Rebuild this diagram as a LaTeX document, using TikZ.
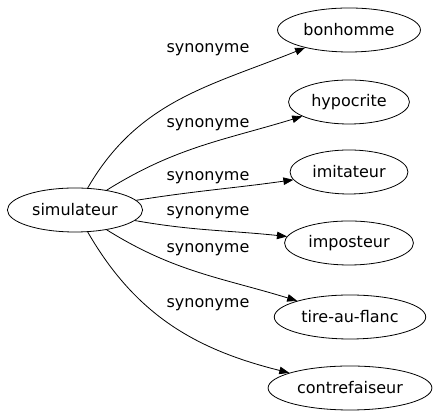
\documentclass[tikz,border=0pt]{standalone}
\usepackage{fontspec}
\setmainfont{DejaVu Sans}
\usetikzlibrary{arrows.meta,shapes.geometric}

\begin{document}
\begin{tikzpicture}[x=1pt,y=1pt,>={Triangle[length=10pt,width=7.5pt]},line width=0.8pt]
  \tikzstyle{word}=[draw,ellipse,inner xsep=5pt,minimum height=44pt,
    font=\fontsize{16}{18}\selectfont]
  \tikzstyle{rel}=[font=\fontsize{16}{18}\selectfont,inner sep=0pt]
  \useasboundingbox (0,0) rectangle (437,419);
  \node[word] (sim) at (75,209) {simulateur};
  \node[word] (bon) at (349,389) {bonhomme};
  \node[word] (hyp) at (349,317) {hypocrite};
  \node[word] (imi) at (349,247) {imitateur};
  \node[word] (imp) at (349,176) {imposteur};
  \node[word] (tir) at (350,102) {tire-au-flanc};
  \node[word] (con) at (350,31) {contrefaiseur};
  \node[rel] (l1) at (208,369) {synonyme};
  \node[rel] (l2) at (208,294) {synonyme};
  \node[rel] (l3) at (208,241) {synonyme};
  \node[rel] (l4) at (208,206) {synonyme};
  \node[rel] (l5) at (208,169) {synonyme};
  \node[rel] (l6) at (208,114) {synonyme};
  \draw[->] (sim) to[out=60,in=202] (bon);
  \draw[->] (sim) to[out=32,in=197] (hyp);
  \draw[->] (sim) to[out=9,in=188] (imi);
  \draw[->] (sim) to[out=-10,in=174] (imp);
  \draw[->] (sim) to[out=-32,in=163] (tir);
  \draw[->] (sim) to[out=-60,in=166] (con);
\end{tikzpicture}
\end{document}
